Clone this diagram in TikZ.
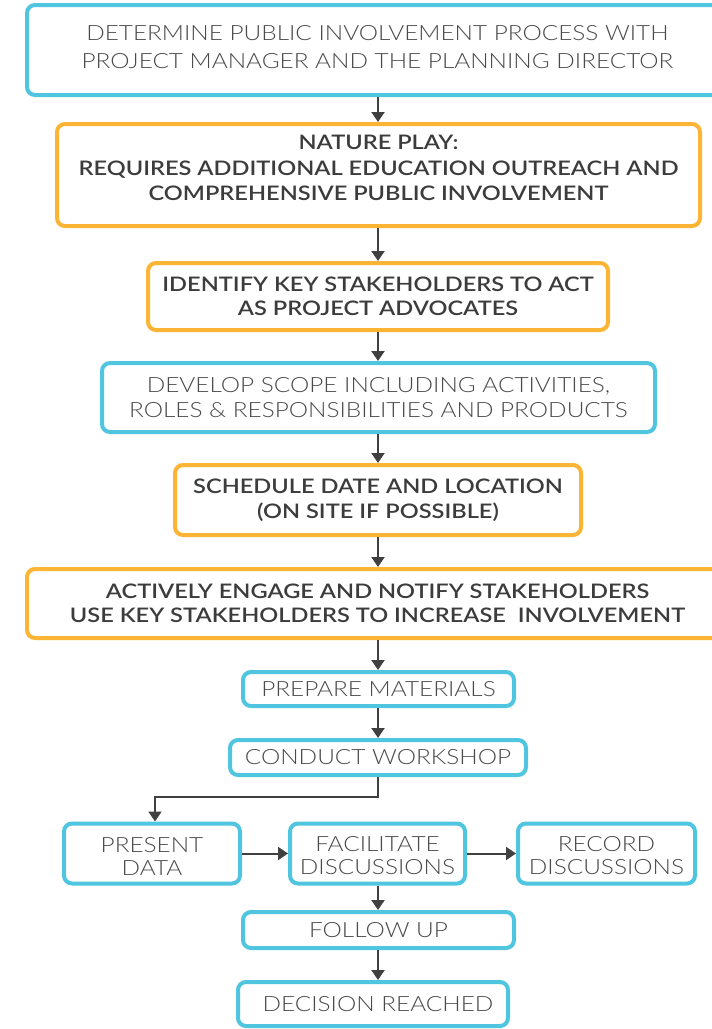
\documentclass[tikz,border=0pt]{standalone}
\usepackage{fontspec}
\setmainfont{Lato}
\newfontfamily\lightfont{Lato Light}[FakeStretch=1.16]
\newfontfamily\medfont{Lato Semibold}[FakeStretch=1.18]
\usetikzlibrary{arrows.meta}
\definecolor{bluebox}{HTML}{50C5E0}
\definecolor{orangebox}{HTML}{FBB433}
\definecolor{txtdark}{HTML}{3C3C3C}
\definecolor{txtlight}{HTML}{4A4A4A}
\definecolor{arrowc}{HTML}{404040}
\tikzset{
  box/.style={draw, rounded corners=8pt, line width=4pt, fill=white, align=center, inner sep=0pt},
  bluestep/.style={box, draw=bluebox, text=txtlight, font=\lightfont\fontsize{21}{24.5}\selectfont},
  orangestep/.style={box, draw=orangebox, text=txtdark, font=\medfont\fontsize{20}{24.5}\selectfont},
  flow/.style={draw=arrowc, line width=2pt, -{Triangle[width=13pt,length=10pt]}}
}
\newcommand{\liftby}[2]{\raisebox{#1}[\height][\depth]{\begin{tabular}{@{}c@{}}#2\end{tabular}}}
\begin{document}
\begin{tikzpicture}[x=1pt,y=-1pt]
\useasboundingbox (0,0) rectangle (712,1029);
\node[bluestep, minimum width=701pt, minimum height=90pt, font=\lightfont\fontsize{21}{28}\selectfont] (b1) at (377.5,50)
  {\liftby{1pt}{DETERMINE PUBLIC INVOLVEMENT PROCESS WITH\\PROJECT MANAGER AND THE PLANNING DIRECTOR}};
\node[orangestep, minimum width=643pt, minimum height=102pt, font=\medfont\fontsize{20}{25.5}\selectfont] (b2) at (378.5,175)
  {\liftby{5pt}{NATURE PLAY:\\REQUIRES ADDITIONAL EDUCATION OUTREACH AND\\COMPREHENSIVE PUBLIC INVOLVEMENT}};
\node[orangestep, minimum width=460pt, minimum height=67pt] (b3) at (378,296.5)
  {IDENTIFY KEY STAKEHOLDERS TO ACT\\AS PROJECT ADVOCATES};
\node[bluestep, minimum width=553pt, minimum height=69pt] (b4) at (378.5,397.5)
  {DEVELOP SCOPE INCLUDING ACTIVITIES,\\ROLES \& RESPONSIBILITIES AND PRODUCTS};
\node[orangestep, minimum width=406pt, minimum height=70pt] (b5) at (378,500)
  {SCHEDULE DATE AND LOCATION\\(ON SITE IF POSSIBLE)};
\node[orangestep, minimum width=701pt, minimum height=69pt] (b6) at (377.5,603.5)
  {ACTIVELY ENGAGE AND NOTIFY STAKEHOLDERS\\USE KEY STAKEHOLDERS TO INCREASE\ \ INVOLVEMENT};
\node[bluestep, minimum width=271pt, minimum height=34pt] (b7) at (378.5,689)
  {PREPARE MATERIALS};
\node[bluestep, minimum width=296pt, minimum height=35pt] (b8) at (378,757.5)
  {CONDUCT WORKSHOP};
\node[bluestep, minimum width=176pt, minimum height=60pt, font=\lightfont\fontsize{21}{23.5}\selectfont] (b9) at (152,853.5)
  {\liftby{-6pt}{PRESENT\\DATA}};
\node[bluestep, minimum width=175pt, minimum height=60pt, font=\lightfont\fontsize{21}{23.5}\selectfont] (b10) at (377.5,853.5)
  {\liftby{-5pt}{FACILITATE\\DISCUSSIONS}};
\node[bluestep, minimum width=177pt, minimum height=60pt, font=\lightfont\fontsize{21}{23.5}\selectfont] (b11) at (606.5,853.5)
  {\liftby{-5pt}{RECORD\\DISCUSSIONS}};
\node[bluestep, minimum width=271pt, minimum height=36pt] (b12) at (378.5,930)
  {FOLLOW UP};
\node[bluestep, minimum width=270pt, minimum height=44pt] (b13) at (373,1004)
  {\hspace*{10pt}DECISION REACHED};
\draw[flow] (b1.south -| 378,0) -- (b2.north -| 378,0);
\draw[flow] (b2.south -| 378,0) -- (b3.north -| 378,0);
\draw[flow] (b3.south -| 378,0) -- (b4.north -| 378,0);
\draw[flow] (b4.south -| 378,0) -- (b5.north -| 378,0);
\draw[flow] (b5.south -| 378,0) -- (b6.north -| 378,0);
\draw[flow] (b6.south -| 378,0) -- (b7.north -| 378,0);
\draw[flow] (b7.south -| 378,0) -- (b8.north -| 378,0);
\draw[flow] (b8.south -| 378,0) -- ++(0,20) -| ([xshift=3pt]b9.north);
\draw[flow] (b9.east) -- (b10.west);
\draw[flow] (b10.east) -- (b11.west);
\draw[flow] (b10.south -| 378,0) -- (b12.north -| 378,0);
\draw[flow] (b12.south -| 378,0) -- (b13.north -| 378,0);
\end{tikzpicture}
\end{document}
